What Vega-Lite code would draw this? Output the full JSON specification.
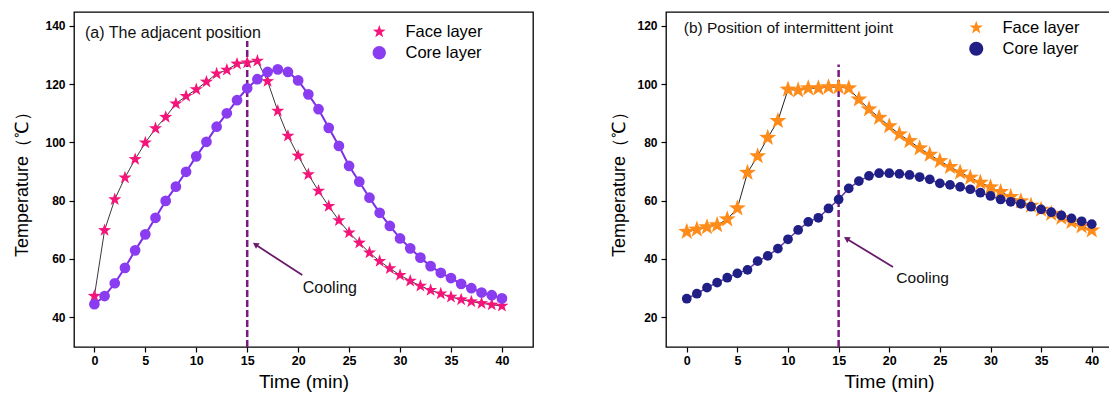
{
  "$schema": "https://vega.github.io/schema/vega-lite/v6.json",
  "padding": {"left": 13, "top": 11, "right": 0, "bottom": 0},
  "background": "white",
  "spacing": 76,
  "resolve": {"scale": {"color": "independent", "shape": "independent"}, "legend": {"color": "independent", "shape": "independent"}},
  "config": {
    "view": {"stroke": "#000", "strokeWidth": 1.3},
    "axis": {"grid": false, "domain": false, "tickColor": "#000", "tickWidth": 1.2, "labelColor": "#000", "titleColor": "#000", "labelFont": "Liberation Sans", "titleFont": "Liberation Sans", "labelFontWeight": "bold", "titleFontWeight": "normal"},
    "legend": {"labelFont": "Liberation Sans", "labelColor": "#000"}
  },
  "datasets": {
    "panelA": [
      {"series":"Face layer","time":0,"temp":47.2},{"series":"Face layer","time":1,"temp":69.8},{"series":"Face layer","time":2,"temp":80.4},{"series":"Face layer","time":3,"temp":87.9},{"series":"Face layer","time":4,"temp":94.2},{"series":"Face layer","time":5,"temp":99.9},{"series":"Face layer","time":6,"temp":104.8},{"series":"Face layer","time":7,"temp":108.7},{"series":"Face layer","time":8,"temp":113.3},{"series":"Face layer","time":9,"temp":115.9},{"series":"Face layer","time":10,"temp":118.2},{"series":"Face layer","time":11,"temp":120.8},{"series":"Face layer","time":12,"temp":123.6},{"series":"Face layer","time":13,"temp":124.9},{"series":"Face layer","time":14,"temp":127.0},{"series":"Face layer","time":15,"temp":127.4},{"series":"Face layer","time":16,"temp":128.0},{"series":"Face layer","time":17,"temp":121.0},{"series":"Face layer","time":18,"temp":110.8},{"series":"Face layer","time":19,"temp":102.2},{"series":"Face layer","time":20,"temp":95.4},{"series":"Face layer","time":21,"temp":89.0},{"series":"Face layer","time":22,"temp":83.3},{"series":"Face layer","time":23,"temp":78.1},{"series":"Face layer","time":24,"temp":73.2},{"series":"Face layer","time":25,"temp":69.0},{"series":"Face layer","time":26,"temp":65.5},{"series":"Face layer","time":27,"temp":62.1},{"series":"Face layer","time":28,"temp":59.2},{"series":"Face layer","time":29,"temp":56.7},{"series":"Face layer","time":30,"temp":54.4},{"series":"Face layer","time":31,"temp":52.4},{"series":"Face layer","time":32,"temp":50.7},{"series":"Face layer","time":33,"temp":49.2},{"series":"Face layer","time":34,"temp":48.0},{"series":"Face layer","time":35,"temp":46.9},{"series":"Face layer","time":36,"temp":46.0},{"series":"Face layer","time":37,"temp":45.3},{"series":"Face layer","time":38,"temp":44.7},{"series":"Face layer","time":39,"temp":44.2},{"series":"Face layer","time":40,"temp":43.8},
      {"series":"Core layer","time":0,"temp":44.4},{"series":"Core layer","time":1,"temp":47.2},{"series":"Core layer","time":2,"temp":51.6},{"series":"Core layer","time":3,"temp":56.9},{"series":"Core layer","time":4,"temp":62.9},{"series":"Core layer","time":5,"temp":68.4},{"series":"Core layer","time":6,"temp":74.1},{"series":"Core layer","time":7,"temp":79.9},{"series":"Core layer","time":8,"temp":84.8},{"series":"Core layer","time":9,"temp":89.9},{"series":"Core layer","time":10,"temp":95.2},{"series":"Core layer","time":11,"temp":100.2},{"series":"Core layer","time":12,"temp":105.4},{"series":"Core layer","time":13,"temp":110.0},{"series":"Core layer","time":14,"temp":114.5},{"series":"Core layer","time":15,"temp":118.6},{"series":"Core layer","time":16,"temp":121.7},{"series":"Core layer","time":17,"temp":124.2},{"series":"Core layer","time":18,"temp":125.1},{"series":"Core layer","time":19,"temp":124.2},{"series":"Core layer","time":20,"temp":121.3},{"series":"Core layer","time":21,"temp":116.5},{"series":"Core layer","time":22,"temp":111.4},{"series":"Core layer","time":23,"temp":105.0},{"series":"Core layer","time":24,"temp":98.8},{"series":"Core layer","time":25,"temp":91.9},{"series":"Core layer","time":26,"temp":86.5},{"series":"Core layer","time":27,"temp":81.0},{"series":"Core layer","time":28,"temp":75.8},{"series":"Core layer","time":29,"temp":71.3},{"series":"Core layer","time":30,"temp":67.0},{"series":"Core layer","time":31,"temp":63.6},{"series":"Core layer","time":32,"temp":60.4},{"series":"Core layer","time":33,"temp":57.5},{"series":"Core layer","time":34,"temp":55.2},{"series":"Core layer","time":35,"temp":53.4},{"series":"Core layer","time":36,"temp":51.4},{"series":"Core layer","time":37,"temp":49.9},{"series":"Core layer","time":38,"temp":48.4},{"series":"Core layer","time":39,"temp":47.5},{"series":"Core layer","time":40,"temp":46.4}
    ],
    "panelB": [
      {"series":"Face layer","time":0,"temp":49.3},{"series":"Face layer","time":1,"temp":50.1},{"series":"Face layer","time":2,"temp":50.9},{"series":"Face layer","time":3,"temp":51.6},{"series":"Face layer","time":4,"temp":53.6},{"series":"Face layer","time":5,"temp":57.4},{"series":"Face layer","time":6,"temp":69.6},{"series":"Face layer","time":7,"temp":75.3},{"series":"Face layer","time":8,"temp":81.6},{"series":"Face layer","time":9,"temp":87.4},{"series":"Face layer","time":10,"temp":98.2},{"series":"Face layer","time":11,"temp":97.9},{"series":"Face layer","time":12,"temp":98.6},{"series":"Face layer","time":13,"temp":98.6},{"series":"Face layer","time":14,"temp":99.0},{"series":"Face layer","time":15,"temp":99.0},{"series":"Face layer","time":16,"temp":98.6},{"series":"Face layer","time":17,"temp":94.8},{"series":"Face layer","time":18,"temp":91.4},{"series":"Face layer","time":19,"temp":88.5},{"series":"Face layer","time":20,"temp":85.6},{"series":"Face layer","time":21,"temp":82.8},{"series":"Face layer","time":22,"temp":80.5},{"series":"Face layer","time":23,"temp":78.0},{"series":"Face layer","time":24,"temp":75.8},{"series":"Face layer","time":25,"temp":73.6},{"series":"Face layer","time":26,"temp":71.6},{"series":"Face layer","time":27,"temp":69.7},{"series":"Face layer","time":28,"temp":67.9},{"series":"Face layer","time":29,"temp":66.2},{"series":"Face layer","time":30,"temp":64.6},{"series":"Face layer","time":31,"temp":63.0},{"series":"Face layer","time":32,"temp":61.3},{"series":"Face layer","time":33,"temp":59.8},{"series":"Face layer","time":34,"temp":58.3},{"series":"Face layer","time":35,"temp":56.9},{"series":"Face layer","time":36,"temp":55.5},{"series":"Face layer","time":37,"temp":54.1},{"series":"Face layer","time":38,"temp":52.7},{"series":"Face layer","time":39,"temp":51.2},{"series":"Face layer","time":40,"temp":49.8},
      {"series":"Core layer","time":0,"temp":26.3},{"series":"Core layer","time":1,"temp":28.0},{"series":"Core layer","time":2,"temp":30.1},{"series":"Core layer","time":3,"temp":31.8},{"series":"Core layer","time":4,"temp":33.5},{"series":"Core layer","time":5,"temp":35.0},{"series":"Core layer","time":6,"temp":36.2},{"series":"Core layer","time":7,"temp":39.2},{"series":"Core layer","time":8,"temp":41.0},{"series":"Core layer","time":9,"temp":43.5},{"series":"Core layer","time":10,"temp":46.7},{"series":"Core layer","time":11,"temp":49.9},{"series":"Core layer","time":12,"temp":52.7},{"series":"Core layer","time":13,"temp":54.1},{"series":"Core layer","time":14,"temp":57.3},{"series":"Core layer","time":15,"temp":60.4},{"series":"Core layer","time":16,"temp":64.2},{"series":"Core layer","time":17,"temp":66.7},{"series":"Core layer","time":18,"temp":68.5},{"series":"Core layer","time":19,"temp":69.4},{"series":"Core layer","time":20,"temp":69.4},{"series":"Core layer","time":21,"temp":69.2},{"series":"Core layer","time":22,"temp":68.8},{"series":"Core layer","time":23,"temp":68.1},{"series":"Core layer","time":24,"temp":67.3},{"series":"Core layer","time":25,"temp":65.9},{"series":"Core layer","time":26,"temp":65.4},{"series":"Core layer","time":27,"temp":64.7},{"series":"Core layer","time":28,"temp":63.9},{"series":"Core layer","time":29,"temp":62.7},{"series":"Core layer","time":30,"temp":61.6},{"series":"Core layer","time":31,"temp":60.4},{"series":"Core layer","time":32,"temp":59.6},{"series":"Core layer","time":33,"temp":58.9},{"series":"Core layer","time":34,"temp":57.9},{"series":"Core layer","time":35,"temp":57.0},{"series":"Core layer","time":36,"temp":56.0},{"series":"Core layer","time":37,"temp":54.9},{"series":"Core layer","time":38,"temp":53.9},{"series":"Core layer","time":39,"temp":52.9},{"series":"Core layer","time":40,"temp":51.9}
    ]
  },
  "hconcat": [
    {
      "width": 459,
      "height": 335,
      "layer": [
        {
          "data": {"values": [{"time": 15, "lo": 29.7, "hi": 134.8}]},
          "mark": {"type": "rule", "color": "#7a1a80", "strokeWidth": 2.5, "strokeDash": [7, 3]},
          "encoding": {
            "x": {"field": "time", "type": "quantitative", "scale": {"domain": [-2, 43.05], "nice": false, "zero": false},
                  "axis": {"values": [0, 5, 10, 15, 20, 25, 30, 35, 40], "tickSize": 5, "labelFontSize": 12.5, "labelPadding": 2, "title": "Time (min)", "titleFontSize": 19, "titlePadding": 6}},
            "y": {"field": "lo", "type": "quantitative", "scale": {"domain": [29.7, 144.8], "nice": false, "zero": false},
                  "axis": {"values": [40, 60, 80, 100, 120, 140], "tickSize": 5, "labelFontSize": 12, "labelPadding": 4, "title": "Temperature（℃）", "titleFontSize": 18, "titlePadding": 13}},
            "y2": {"field": "hi"}
          }
        },
        {
          "data": {"name": "panelA"},
          "transform": [{"filter": "datum.series === 'Face layer'"}],
          "mark": {"type": "line", "color": "#3a3a3a", "strokeWidth": 1},
          "encoding": {
            "x": {"field": "time", "type": "quantitative"},
            "y": {"field": "temp", "type": "quantitative"}
          }
        },
        {
          "data": {"name": "panelA"},
          "transform": [{"filter": "datum.series === 'Core layer'"}],
          "mark": {"type": "line", "color": "#7d2ee6", "strokeWidth": 2},
          "encoding": {
            "x": {"field": "time", "type": "quantitative"},
            "y": {"field": "temp", "type": "quantitative"}
          }
        },
        {
          "data": {"name": "panelA"},
          "transform": [{"filter": "datum.series === 'Face layer'"}],
          "mark": {"type": "point", "filled": true, "size": 190, "opacity": 1},
          "encoding": {
            "x": {"field": "time", "type": "quantitative"},
            "y": {"field": "temp", "type": "quantitative"},
            "color": {"field": "series", "type": "nominal", "scale": {"domain": ["Face layer", "Core layer"], "range": ["#f5157a", "#8a3cf0"]},
                      "legend": {"title": null, "orient": "none", "legendX": 297, "legendY": 11.5, "symbolSize": 180, "symbolStrokeWidth": 0, "labelFontSize": 16.5, "labelOffset": 18, "rowPadding": 4}},
            "shape": {"field": "series", "type": "nominal", "scale": {"domain": ["Face layer", "Core layer"], "range": ["M0,-1L0.2351,-0.3236L0.9511,-0.309L0.3804,0.1236L0.5878,0.809L0,0.4L-0.5878,0.809L-0.3804,0.1236L-0.9511,-0.309L-0.2351,-0.3236Z", "circle"]},
                      "legend": {"title": null, "orient": "none", "legendX": 297, "legendY": 11.5, "symbolSize": 180, "symbolStrokeWidth": 0, "labelFontSize": 16.5, "labelOffset": 18, "rowPadding": 4}}
          }
        },
        {
          "data": {"name": "panelA"},
          "transform": [{"filter": "datum.series === 'Core layer'"}],
          "mark": {"type": "point", "filled": true, "size": 115, "opacity": 1},
          "encoding": {
            "x": {"field": "time", "type": "quantitative"},
            "y": {"field": "temp", "type": "quantitative"},
            "color": {"field": "series", "type": "nominal"},
            "shape": {"field": "series", "type": "nominal"}
          }
        },
        {
          "data": {"values": [{"t0": 20.4, "v0": 54.4, "t1": 15.8, "v1": 64.9}]},
          "mark": {"type": "rule", "color": "#6a1a6a", "strokeWidth": 1.8},
          "encoding": {
            "x": {"field": "t0", "type": "quantitative"},
            "y": {"field": "v0", "type": "quantitative"},
            "x2": {"field": "t1"},
            "y2": {"field": "v1"}
          }
        },
        {
          "data": {"values": [{"time": 15.8, "temp": 64.95}]},
          "mark": {"type": "point", "shape": "triangle-up", "filled": true, "color": "#6a1a6a", "size": 45, "angle": 302.5, "opacity": 1},
          "encoding": {
            "x": {"field": "time", "type": "quantitative"},
            "y": {"field": "temp", "type": "quantitative"}
          }
        },
        {
          "data": {"values": [{"label": "Cooling", "time": 20.45, "temp": 50.1}, {"label": "(a) The adjacent position", "time": -0.92, "temp": 137.7}]},
          "mark": {"type": "text", "align": "left", "baseline": "middle", "fontSize": 16, "font": "Liberation Sans", "color": "#111"},
          "encoding": {
            "x": {"field": "time", "type": "quantitative"},
            "y": {"field": "temp", "type": "quantitative"},
            "text": {"field": "label", "type": "nominal"}
          }
        }
      ]
    },
    {
      "width": 446,
      "height": 335,
      "layer": [
        {
          "data": {"values": [{"time": 15, "lo": 9.7, "hi": 106.8}]},
          "mark": {"type": "rule", "color": "#7a1a80", "strokeWidth": 2.5, "strokeDash": [7, 3]},
          "encoding": {
            "x": {"field": "time", "type": "quantitative", "scale": {"domain": [-2.05, 42], "nice": false, "zero": false},
                  "axis": {"values": [0, 5, 10, 15, 20, 25, 30, 35, 40], "tickSize": 5, "labelFontSize": 12.5, "labelPadding": 2, "title": "Time (min)", "titleFontSize": 19, "titlePadding": 6}},
            "y": {"field": "lo", "type": "quantitative", "scale": {"domain": [9.7, 124.8], "nice": false, "zero": false},
                  "axis": {"values": [20, 40, 60, 80, 100, 120], "tickSize": 5, "labelFontSize": 12, "labelPadding": 4, "title": "Temperature（℃）", "titleFontSize": 18, "titlePadding": 8}},
            "y2": {"field": "hi"}
          }
        },
        {
          "data": {"name": "panelB"},
          "transform": [{"filter": "datum.series === 'Face layer'"}],
          "mark": {"type": "line", "color": "#222222", "strokeWidth": 1},
          "encoding": {
            "x": {"field": "time", "type": "quantitative"},
            "y": {"field": "temp", "type": "quantitative"}
          }
        },
        {
          "data": {"name": "panelB"},
          "transform": [{"filter": "datum.series === 'Core layer'"}],
          "mark": {"type": "line", "color": "#6a3aa8", "strokeWidth": 1.5},
          "encoding": {
            "x": {"field": "time", "type": "quantitative"},
            "y": {"field": "temp", "type": "quantitative"}
          }
        },
        {
          "data": {"name": "panelB"},
          "transform": [{"filter": "datum.series === 'Face layer'"}],
          "mark": {"type": "point", "filled": true, "size": 320, "opacity": 1},
          "encoding": {
            "x": {"field": "time", "type": "quantitative"},
            "y": {"field": "temp", "type": "quantitative"},
            "color": {"field": "series", "type": "nominal", "scale": {"domain": ["Face layer", "Core layer"], "range": ["#ff8c1a", "#1f1f85"]},
                      "legend": {"title": null, "orient": "none", "legendX": 302, "legendY": 7.5, "symbolSize": 200, "symbolStrokeWidth": 0, "labelFontSize": 16.5, "labelOffset": 18, "rowPadding": 4}},
            "shape": {"field": "series", "type": "nominal", "scale": {"domain": ["Face layer", "Core layer"], "range": ["M0,-1L0.2351,-0.3236L0.9511,-0.309L0.3804,0.1236L0.5878,0.809L0,0.4L-0.5878,0.809L-0.3804,0.1236L-0.9511,-0.309L-0.2351,-0.3236Z", "circle"]},
                      "legend": {"title": null, "orient": "none", "legendX": 302, "legendY": 7.5, "symbolSize": 200, "symbolStrokeWidth": 0, "labelFontSize": 16.5, "labelOffset": 18, "rowPadding": 4}}
          }
        },
        {
          "data": {"name": "panelB"},
          "transform": [{"filter": "datum.series === 'Core layer'"}],
          "mark": {"type": "point", "filled": true, "size": 95, "opacity": 1},
          "encoding": {
            "x": {"field": "time", "type": "quantitative"},
            "y": {"field": "temp", "type": "quantitative"},
            "color": {"field": "series", "type": "nominal"},
            "shape": {"field": "series", "type": "nominal"}
          }
        },
        {
          "data": {"values": [{"t0": 20.37, "v0": 37.2, "t1": 15.78, "v1": 46.9}]},
          "mark": {"type": "rule", "color": "#6a1a6a", "strokeWidth": 1.8},
          "encoding": {
            "x": {"field": "t0", "type": "quantitative"},
            "y": {"field": "v0", "type": "quantitative"},
            "x2": {"field": "t1"},
            "y2": {"field": "v1"}
          }
        },
        {
          "data": {"values": [{"time": 15.78, "temp": 46.96}]},
          "mark": {"type": "point", "shape": "triangle-up", "filled": true, "color": "#6a1a6a", "size": 45, "angle": 301.5, "opacity": 1},
          "encoding": {
            "x": {"field": "time", "type": "quantitative"},
            "y": {"field": "temp", "type": "quantitative"}
          }
        },
        {
          "data": {"values": [{"label": "Cooling", "time": 20.7, "temp": 33.5}, {"label": "(b) Position of intermittent joint", "time": -0.3, "temp": 119.4}]},
          "mark": {"type": "text", "align": "left", "baseline": "middle", "fontSize": 15.5, "font": "Liberation Sans", "color": "#111"},
          "encoding": {
            "x": {"field": "time", "type": "quantitative"},
            "y": {"field": "temp", "type": "quantitative"},
            "text": {"field": "label", "type": "nominal"}
          }
        }
      ]
    }
  ]
}
